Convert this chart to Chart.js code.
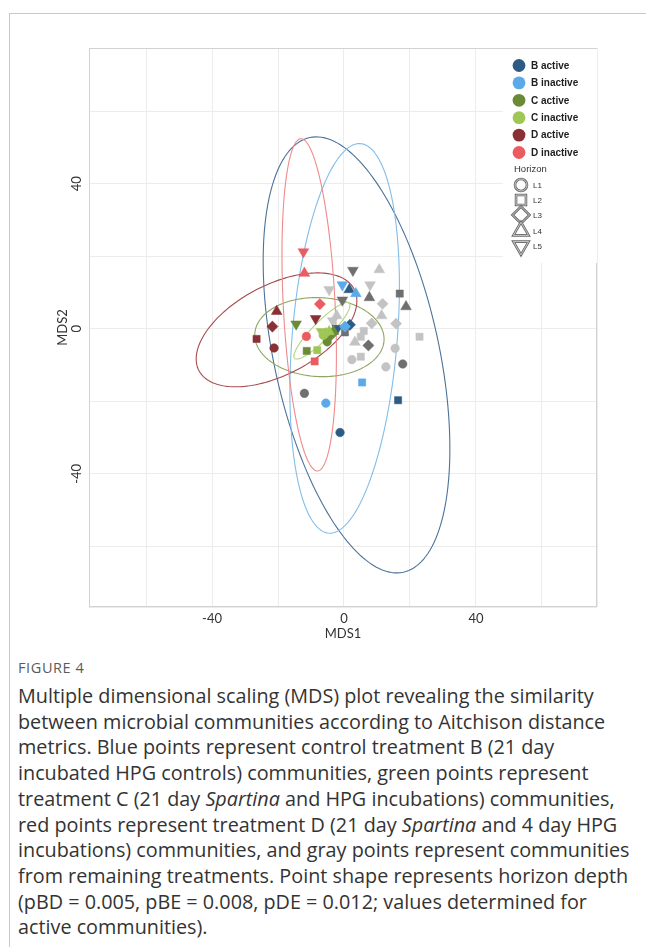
<!DOCTYPE html>
<html>
<head>
<meta charset="utf-8">
<script src="https://cdn.jsdelivr.net/npm/chart.js@4.4.1/dist/chart.umd.min.js"></script>
<style>
  html, body { margin: 0; padding: 0; background: #fff; }
  body { width: 646px; height: 947px; position: relative; overflow: hidden; font-family: "Open Sans", sans-serif; }
  #frame { position: absolute; left: 9px; top: 13px; right: -2px; bottom: -2px; border-top: 1.5px solid #c9c9c9; border-left: 1.5px solid #c9c9c9; }
  #wrap { position: absolute; left: 0; top: 0; width: 646px; height: 650px; }
  #figno { position: absolute; left: 18px; top: 658px; font-size: 14.5px; color: #5b5b5b; letter-spacing: 0.6px; }
  #cap { position: absolute; left: 18px; top: 683px; font-size: 19.8px; line-height: 25.7px; color: #333; white-space: nowrap; }
</style>
</head>
<body>
<div id="frame"></div>
<div id="wrap"><canvas id="mds" width="646" height="650"></canvas></div>
<div id="figno">FIGURE 4</div>
<div id="cap">Multiple dimensional scaling (MDS) plot revealing the similarity<br>between microbial communities according to Aitchison distance<br>metrics. Blue points represent control treatment B (21 day<br>incubated HPG controls) communities, green points represent<br>treatment C (21 day <i>Spartina</i> and HPG incubations) communities,<br>red points represent treatment D (21 day <i>Spartina</i> and 4 day HPG<br>incubations) communities, and gray points represent communities<br>from remaining treatments. Point shape represents horizon depth<br>(pBD = 0.005, pBE = 0.008, pDE = 0.012; values determined for<br>active communities).</div>
<script>
// points: [MDS1, MDS2, horizon]
const bActive = [[-1.2,-28.6,'L1'],[16.4,-19.7,'L2'],[1.8,1.1,'L3'],[1.6,10.8,'L4'],[-2.0,0.1,'L5']];
const bInactive = [[-5.5,-20.5,'L1'],[5.5,-14.8,'L2'],[0.3,0.6,'L3'],[3.6,9.7,'L4'],[-0.5,12.1,'L5']];
const cActive = [[-5.1,-3.6,'L1'],[-11.3,-6.1,'L2'],[-3.9,-1.7,'L3'],[-3.2,-0.7,'L4'],[-14.5,1.3,'L5']];
const cInactive = [[-6.3,-1.8,'L1'],[-8.1,-5.9,'L2'],[-5.5,-1.2,'L3'],[-4.5,-0.8,'L4'],[-6.8,-0.8,'L5']];
const dActive = [[-21.2,-5.3,'L1'],[-26.5,-2.8,'L2'],[-21.7,0.6,'L3'],[-20.4,4.8,'L4'],[-8.6,2.8,'L5']];
const dInactive = [[-11.4,-2.1,'L1'],[-8.9,-9.0,'L2'],[-7.3,6.8,'L3'],[-12.0,15.3,'L4'],[-12.3,21.2,'L5']];
const otherActive = [[2.7,16.1,'L5'],[-0.5,7.9,'L5'],[7.7,8.6,'L4'],[18.8,6.1,'L4'],[16.9,9.7,'L2'],[0.3,-1.0,'L2'],
  [7.4,-4.6,'L3'],[17.8,-9.7,'L1'],[-12.0,-17.8,'L1']];
const otherInactive = [[10.7,16.3,'L4'],[-4.5,10.8,'L5'],[7.9,12.1,'L5'],[11.7,6.9,'L3'],[11.4,3.6,'L4'],[-2.2,3.6,'L4'],
  [8.4,1.5,'L3'],[15.8,1.4,'L3'],[6.0,-0.6,'L2'],[5.1,-2.2,'L2'],[3.3,-3.7,'L4'],[22.9,-2.2,'L2'],
  [15.5,-5.4,'L1'],[2.4,-8.5,'L1'],[5.1,-7.7,'L2'],[12.7,-10.5,'L1'],[-3.4,2.2,'L5']];

const groupNames = ['B active','B inactive','C active','C inactive','D active','D inactive'];
const groupColors = ['#2d5b84','#5aaaea','#6b8a36','#9fc756','#8a3034','#eb5b5f'];
const grayColors = ['#6f6f6f','#c3c3c3'];
const horizons = ['L1','L2','L3','L4','L5'];

// ellipses: centre, half extent along x and y, tilt = x offset of top point / half extent x
const ellCx = [3.8, 0.2, -7.45, -6.7, -20.45, -10.55];
const ellCy = [-7.2, -2.65, -2.3, -0.55, -0.3, 6.6];
const ellRx = [28.3, 16.6, 19.6, 8.5, 24.35, 8.25];
const ellRy = [60.1, 53.7, 10.9, 7.8, 15.7, 45.8];
const ellTilt = [-0.43, 0.27, -0.05, 0.9, 0.51, -0.3];
const ellColors = ['#4b7399','#83bde8','#8ea65f','#b5d47c','#a84c50','#f08a8a'];

const shapeOf = { L1:'circle', L2:'rect', L3:'rectRot', L4:'triangle', L5:'triangle' };
const rotOf = { L1:0, L2:0, L3:0, L4:0, L5:180 };
const sizeOf = { L1:4.3, L2:5.1, L3:5.6, L4:6.2, L5:6.2 };

function makeSet(label, pts, color, order) {
  return {
    label: label,
    data: pts.map(p => ({ x: p[0], y: p[1] })),
    pointStyle: pts.map(p => shapeOf[p[2]]),
    pointRotation: pts.map(p => rotOf[p[2]]),
    pointRadius: pts.map(p => sizeOf[p[2]]),
    pointHoverRadius: pts.map(p => sizeOf[p[2]]),
    pointBackgroundColor: color,
    pointBorderColor: color,
    pointBorderWidth: 0.5,
    showLine: false,
    order: order
  };
}

const sets = [
  makeSet('D inactive', dInactive, groupColors[5], 1),
  makeSet('D active', dActive, groupColors[4], 2),
  makeSet('C inactive', cInactive, groupColors[3], 3),
  makeSet('C active', cActive, groupColors[2], 4),
  makeSet('B inactive', bInactive, groupColors[1], 5),
  makeSet('B active', bActive, groupColors[0], 6),
  makeSet('other active', otherActive, grayColors[0], 7),
  makeSet('other inactive', otherInactive, grayColors[1], 8)
];

/* ellipses, panel border, rotated y labels, legend */
const ellipsePlugin = {
  id: 'ellipses',
  beforeDatasetsDraw(chart) {
    const { ctx, chartArea: a, scales: { x, y } } = chart;
    ctx.save();
    ctx.beginPath();
    ctx.rect(a.left, a.top, a.right - a.left, a.bottom - a.top);
    ctx.clip();
    for (let i = 0; i < ellCx.length; i++) {
      const phi = Math.acos(ellTilt[i]);
      ctx.beginPath();
      for (let k = 0; k <= 180; k++) {
        const t = k / 180 * Math.PI * 2;
        const px = x.getPixelForValue(ellCx[i] + ellRx[i] * Math.cos(t));
        const py = y.getPixelForValue(ellCy[i] + ellRy[i] * Math.cos(t - phi));
        if (k === 0) ctx.moveTo(px, py); else ctx.lineTo(px, py);
      }
      ctx.strokeStyle = ellColors[i];
      ctx.lineWidth = 1.1;
      ctx.stroke();
    }
    ctx.restore();
  },
  afterDraw(chart) {
    const { ctx, chartArea: a, scales: { y } } = chart;
    ctx.save();
    ctx.strokeStyle = '#d2d2d2';
    ctx.lineWidth = 1;
    ctx.strokeRect(a.left + 0.5, a.top + 0.5, a.right - a.left - 1, a.bottom - a.top - 1);

    ctx.fillStyle = '#333';
    ctx.font = '13px Lato, "DejaVu Sans", sans-serif';
    ctx.textAlign = 'center';
    ctx.textBaseline = 'middle';
    y.ticks.forEach(t => {
      if (t.value % 40 !== 0) return;
      const py = y.getPixelForValue(t.value);
      ctx.save();
      ctx.translate(77, py);
      ctx.rotate(-Math.PI / 2);
      ctx.fillText(String(t.value), 0, 0);
      ctx.restore();
    });

    // legend
    ctx.fillStyle = '#fff';
    ctx.fillRect(503, 49, 94, 214);
    ctx.textAlign = 'left';
    ctx.textBaseline = 'middle';
    groupNames.forEach((g, i) => {
      const cy = 65.5 + i * 17.4;
      ctx.beginPath();
      ctx.arc(519, cy, 6.4, 0, Math.PI * 2);
      ctx.fillStyle = groupColors[i];
      ctx.fill();
      ctx.fillStyle = '#1e1e1e';
      ctx.font = 'bold 10px "Liberation Sans", Arial, sans-serif';
      ctx.fillText(g, 531, cy + 0.5);
    });
    ctx.fillStyle = '#333';
    ctx.font = '9.5px "Liberation Sans", Arial, sans-serif';
    ctx.fillText('Horizon', 514, 169);
    const legSize = { L1: 6, L2: 7, L3: 8.5, L4: 8.8, L5: 8.8 };
    horizons.forEach((h, i) => {
      const cy = [185, 200, 215, 231, 246][i];
      const opts = { pointStyle: shapeOf[h], rotation: rotOf[h], radius: legSize[h], borderWidth: 1 };
      ctx.fillStyle = 'rgba(0,0,0,0)';
      ctx.strokeStyle = '#6a6a6a';
      ctx.lineWidth = 2.6;
      Chart.helpers.drawPoint(ctx, opts, 521, cy);
      ctx.strokeStyle = '#d4d4d4';
      ctx.lineWidth = 0.9;
      Chart.helpers.drawPoint(ctx, opts, 521, cy);
      ctx.fillStyle = '#333';
      ctx.font = '8px "Liberation Sans", Arial, sans-serif';
      ctx.fillText(h, 533, cy + 0.5);
    });
    ctx.restore();
  }
};

new Chart(document.getElementById('mds'), {
  type: 'scatter',
  data: { datasets: sets },
  options: {
    responsive: false,
    animation: false,
    layout: { padding: { left: 50, right: 49, top: 48, bottom: 4 } },
    plugins: { legend: { display: false }, tooltip: { enabled: false } },
    scales: {
      x: {
        type: 'linear', min: -77.3, max: 76.7,
        afterFit(s) { s.height = 39; },
        grid: { color: '#ececec', drawTicks: false },
        border: { display: false },
        ticks: {
          stepSize: 20, padding: 4, color: '#333',
          font: { family: 'Lato, "DejaVu Sans", sans-serif', size: 13 },
          callback: v => (v % 40 === 0 ? String(v) : '')
        },
        title: { display: true, text: 'MDS1', color: '#333', padding: { top: 0, bottom: 4 },
          font: { family: 'Lato, "DejaVu Sans", sans-serif', size: 13 } }
      },
      y: {
        type: 'linear', min: -76.7, max: 77.4,
        afterFit(s) { s.width = 39; },
        grid: { color: '#ececec', drawTicks: false },
        border: { display: false },
        ticks: { stepSize: 20, display: false },
        title: { display: true, text: 'MDS2', color: '#333', padding: { top: 5, bottom: 0 },
          font: { family: 'Lato, "DejaVu Sans", sans-serif', size: 13 } }
      }
    }
  },
  plugins: [ellipsePlugin]
});
</script>
</body>
</html>
